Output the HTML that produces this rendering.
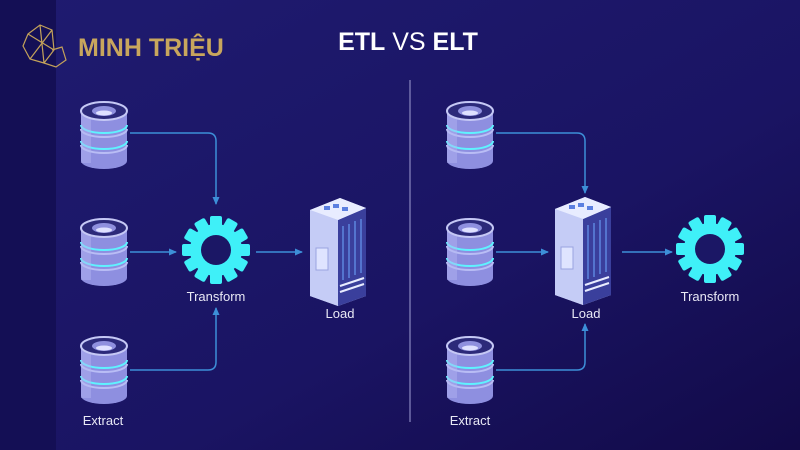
<!DOCTYPE html>
<html><head><meta charset="utf-8"><style>
html,body{margin:0;padding:0;}
body{width:800px;height:450px;overflow:hidden;background:#1a1663;}
svg{display:block}
</style></head><body>
<svg width="800" height="450" viewBox="0 0 800 450" xmlns="http://www.w3.org/2000/svg">
<defs>
<linearGradient id="bg" x1="0" y1="0" x2="1" y2="1">
<stop offset="0" stop-color="#1f1b70"/><stop offset="0.6" stop-color="#1a1463"/><stop offset="1" stop-color="#120a48"/>
</linearGradient>
<marker id="ar" markerWidth="8" markerHeight="8" refX="7" refY="4" orient="auto" markerUnits="userSpaceOnUse">
<path d="M0,0.5 L8,4 L0,7.5 z" fill="#3d8fd8"/></marker>
<g id="db">
<rect x="-23" y="-22" width="46" height="50" fill="#8e8fe0"/>
<ellipse cx="0" cy="28" rx="23" ry="8" fill="#8e8fe0"/>
<path d="M-23,-8 A23,8 0 0 0 23,-8" fill="none" stroke="#5ff2ff" stroke-width="2"/>
<path d="M-23,8 A23,8 0 0 0 23,8" fill="none" stroke="#5ff2ff" stroke-width="2"/>
<path d="M-23,-4 A23,8 0 0 0 23,-4" fill="none" stroke="#b9bdf5" stroke-width="2"/>
<path d="M-23,12 A23,8 0 0 0 23,12" fill="none" stroke="#b9bdf5" stroke-width="2"/>
<rect x="-23" y="-22" width="10" height="52" fill="#b3b6f2" opacity="0.45"/>
<ellipse cx="0" cy="-22" rx="23" ry="9" fill="#2c2a7a" stroke="#c5c8f5" stroke-width="2"/>
<ellipse cx="0" cy="-22" rx="12" ry="5" fill="#8f90de"/>
<ellipse cx="0" cy="-20" rx="8" ry="2.5" fill="#dfe1ff"/>
</g>
<g id="gear">
<g fill="#3ff0f8">
<circle r="26"/>
<rect x="-6" y="-34" width="12" height="68" rx="2"/>
<rect x="-6" y="-34" width="12" height="68" rx="2" transform="rotate(30)"/>
<rect x="-6" y="-34" width="12" height="68" rx="2" transform="rotate(60)"/>
<rect x="-6" y="-34" width="12" height="68" rx="2" transform="rotate(90)"/>
<rect x="-6" y="-34" width="12" height="68" rx="2" transform="rotate(120)"/>
<rect x="-6" y="-34" width="12" height="68" rx="2" transform="rotate(150)"/>
</g>
<circle r="15" fill="#1b1765"/>
</g>
<g id="srv">
<path d="M-24,-40 L6,-52 L32,-42 L32,46 L4,56 L-24,46 z" fill="#cfd6fb"/>
<path d="M4,-30 L32,-42 L32,46 L4,56 z" fill="#3a3f9c"/>
<path d="M-24,-40 L6,-52 L32,-42 L4,-30 z" fill="#e8ecff"/>
<path d="M-24,-40 L4,-30 L4,56 L-24,46 z" fill="#c5ccf6"/>
<g fill="#5b7fe0"><rect x="-10" y="-44" width="6" height="4"/><rect x="-1" y="-46" width="6" height="4"/><rect x="8" y="-43" width="6" height="4"/></g>
<rect x="-18" y="-2" width="12" height="22" fill="#dfe4ff" stroke="#9aa3e0"/>
<g stroke="#6fa8ff" stroke-width="1"><path d="M9,-24 L9,30 M15,-26 L15,28 M21,-29 L21,25 M27,-31 L27,23"/></g>
<path d="M6,36 L30,28 M6,42 L30,34" stroke="#e8ecff" stroke-width="2"/>
</g>
</defs>
<rect width="800" height="450" fill="url(#bg)"/>
<rect width="56" height="450" fill="#140f55"/>
<g fill="none" stroke="#c4a25a" stroke-width="1.2">
<path d="M28,34 L40,25 L52,30 L54,50 L44,63 L30,59 L23,46 z M40,25 L44,63 M28,34 L54,50 M52,30 L30,59"/>
<path d="M52,50 L62,47 L66,60 L56,67 L44,63"/>
</g>
<text x="78" y="56" font-family="Liberation Sans, sans-serif" font-weight="bold" font-size="25" fill="#c8a65d">MINH TRIỆU</text>
<text x="408" y="50" text-anchor="middle" font-family="Liberation Sans, sans-serif" font-size="25" fill="#fff"><tspan font-weight="bold">ETL</tspan> VS <tspan font-weight="bold">ELT</tspan></text>
<line x1="410" y1="80" x2="410" y2="422" stroke="#8a88c0" stroke-width="1.2"/>
<g fill="none" stroke="#3d8fd8" stroke-width="1.5">
<path d="M130,133 H208 Q216,133 216,141 V204" marker-end="url(#ar)"/>
<path d="M130,252 H176" marker-end="url(#ar)"/>
<path d="M130,370 H208 Q216,370 216,362 V308" marker-end="url(#ar)"/>
<path d="M256,252 H302" marker-end="url(#ar)"/>
<path d="M496,133 H577 Q585,133 585,141 V193" marker-end="url(#ar)"/>
<path d="M496,252 H548" marker-end="url(#ar)"/>
<path d="M496,370 H577 Q585,370 585,362 V324" marker-end="url(#ar)"/>
<path d="M622,252 H672" marker-end="url(#ar)"/>
</g>
<use href="#db" x="104" y="133"/>
<use href="#db" x="104" y="250"/>
<use href="#db" x="104" y="368"/>
<use href="#db" x="470" y="133"/>
<use href="#db" x="470" y="250"/>
<use href="#db" x="470" y="368"/>
<use href="#gear" x="216" y="250"/>
<use href="#gear" x="710" y="249"/>
<use href="#srv" x="334" y="250"/>
<use href="#srv" x="579" y="249"/>
<g font-family="Liberation Sans, sans-serif" font-size="13" fill="#e8e8f5" text-anchor="middle">
<text x="216" y="301">Transform</text>
<text x="340" y="318">Load</text>
<text x="103" y="425">Extract</text>
<text x="710" y="301">Transform</text>
<text x="586" y="318">Load</text>
<text x="470" y="425">Extract</text>
</g>
</svg>
</body></html>
